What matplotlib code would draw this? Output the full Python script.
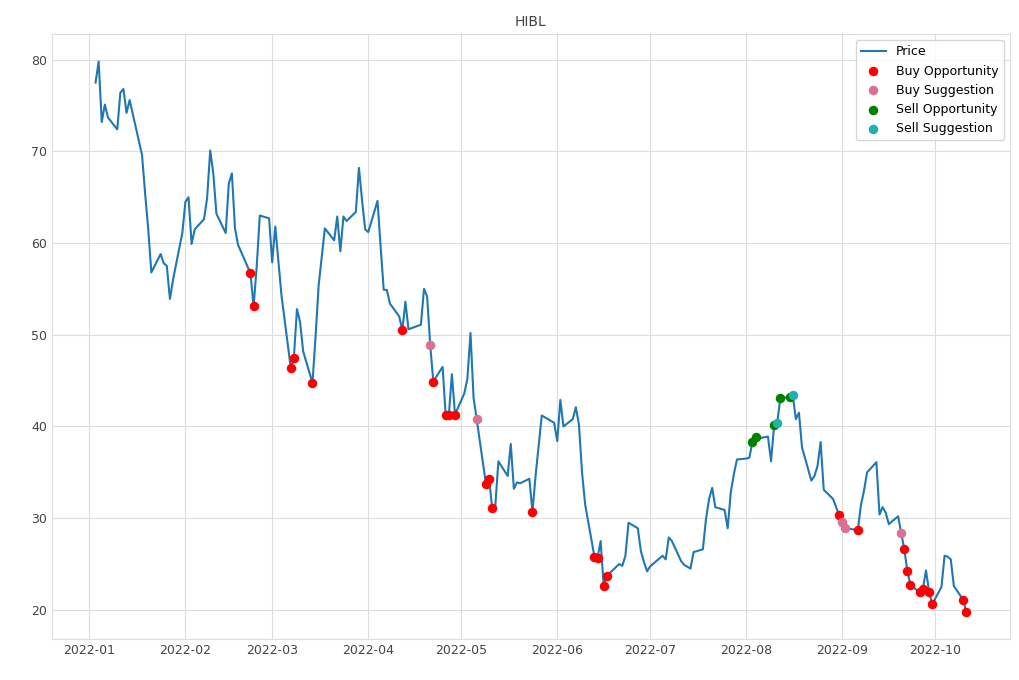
import pandas as pd
import matplotlib
matplotlib.use("Agg")
import matplotlib.pyplot as plt

# HIBL closing prices, trading days 2022
dates = [
    "2022-01-03", "2022-01-04", "2022-01-05", "2022-01-06", "2022-01-07",
    "2022-01-10", "2022-01-11", "2022-01-12", "2022-01-13", "2022-01-14",
    "2022-01-18", "2022-01-19", "2022-01-20", "2022-01-21",
    "2022-01-24", "2022-01-25", "2022-01-26", "2022-01-27", "2022-01-28",
    "2022-01-31", "2022-02-01", "2022-02-02", "2022-02-03", "2022-02-04",
    "2022-02-07", "2022-02-08", "2022-02-09", "2022-02-10", "2022-02-11",
    "2022-02-14", "2022-02-15", "2022-02-16", "2022-02-17", "2022-02-18",
    "2022-02-22", "2022-02-23", "2022-02-24", "2022-02-25",
    "2022-02-28", "2022-03-01", "2022-03-02", "2022-03-03", "2022-03-04",
    "2022-03-07", "2022-03-08", "2022-03-09", "2022-03-10", "2022-03-11",
    "2022-03-14", "2022-03-15", "2022-03-16", "2022-03-17", "2022-03-18",
    "2022-03-21", "2022-03-22", "2022-03-23", "2022-03-24", "2022-03-25",
    "2022-03-28", "2022-03-29", "2022-03-30", "2022-03-31", "2022-04-01",
    "2022-04-04", "2022-04-05", "2022-04-06", "2022-04-07", "2022-04-08",
    "2022-04-11", "2022-04-12", "2022-04-13", "2022-04-14",
    "2022-04-18", "2022-04-19", "2022-04-20", "2022-04-21", "2022-04-22",
    "2022-04-25", "2022-04-26", "2022-04-27", "2022-04-28", "2022-04-29",
    "2022-05-02", "2022-05-03", "2022-05-04", "2022-05-05", "2022-05-06",
    "2022-05-09", "2022-05-10", "2022-05-11", "2022-05-12", "2022-05-13",
    "2022-05-16", "2022-05-17", "2022-05-18", "2022-05-19", "2022-05-20",
    "2022-05-23", "2022-05-24", "2022-05-25", "2022-05-26", "2022-05-27",
    "2022-05-31", "2022-06-01", "2022-06-02", "2022-06-03",
    "2022-06-06", "2022-06-07", "2022-06-08", "2022-06-09", "2022-06-10",
    "2022-06-13", "2022-06-14", "2022-06-15", "2022-06-16", "2022-06-17",
    "2022-06-21", "2022-06-22", "2022-06-23", "2022-06-24",
    "2022-06-27", "2022-06-28", "2022-06-29", "2022-06-30", "2022-07-01",
    "2022-07-05", "2022-07-06", "2022-07-07", "2022-07-08",
    "2022-07-11", "2022-07-12", "2022-07-13", "2022-07-14", "2022-07-15",
    "2022-07-18", "2022-07-19", "2022-07-20", "2022-07-21", "2022-07-22",
    "2022-07-25", "2022-07-26", "2022-07-27", "2022-07-28", "2022-07-29",
    "2022-08-01", "2022-08-02", "2022-08-03", "2022-08-04", "2022-08-05",
    "2022-08-08", "2022-08-09", "2022-08-10", "2022-08-11", "2022-08-12",
    "2022-08-15", "2022-08-16", "2022-08-17", "2022-08-18", "2022-08-19",
    "2022-08-22", "2022-08-23", "2022-08-24", "2022-08-25", "2022-08-26",
    "2022-08-29", "2022-08-30", "2022-08-31", "2022-09-01", "2022-09-02",
    "2022-09-06", "2022-09-07", "2022-09-08", "2022-09-09",
    "2022-09-12", "2022-09-13", "2022-09-14", "2022-09-15", "2022-09-16",
    "2022-09-19", "2022-09-20", "2022-09-21", "2022-09-22", "2022-09-23",
    "2022-09-26", "2022-09-27", "2022-09-28", "2022-09-29", "2022-09-30",
    "2022-10-03", "2022-10-04", "2022-10-05", "2022-10-06", "2022-10-07",
    "2022-10-10", "2022-10-11",
]
prices = [
    77.5, 79.8, 73.2, 75.1, 73.7,
    72.4, 76.4, 76.8, 74.2, 75.6,
    69.6, 65.4, 61.5, 56.8,
    58.8, 57.8, 57.5, 53.9, 56.0,
    61.1, 64.5, 65.0, 59.9, 61.5,
    62.6, 64.9, 70.1, 67.6, 63.2,
    61.1, 66.5, 67.6, 61.6, 59.8,
    56.7, 53.1, 57.4, 63.0,
    62.7, 57.9, 61.8, 58.0, 54.3,
    46.4, 47.5, 52.8, 51.4, 48.2,
    44.75, 49.8, 55.4, 58.5, 61.6,
    60.3, 62.9, 59.1, 62.9, 62.4,
    63.4, 68.2, 64.7, 61.5, 61.2,
    64.6, 59.6, 54.9, 54.9, 53.4,
    52.0, 50.5, 53.6, 50.6,
    51.1, 55.0, 54.2, 48.9, 44.9,
    46.5, 41.2, 41.2, 45.7, 41.3,
    43.6, 45.2, 50.2, 43.1, 40.8,
    33.7, 34.3, 31.1, 31.3, 36.2,
    34.6, 38.1, 33.2, 33.9, 33.8,
    34.3, 30.7, 34.6, 37.9, 41.2,
    40.4, 38.4, 42.9, 40.0,
    40.8, 42.1, 40.2, 35.0, 31.5,
    25.8, 25.7, 27.5, 22.6, 23.7,
    25.0, 24.8, 25.9, 29.5,
    28.9, 26.4, 25.2, 24.2, 24.75,
    25.9, 25.5, 27.9, 27.5,
    25.3, 24.9, 24.7, 24.5, 26.3,
    26.6, 29.9, 32.1, 33.3, 31.2,
    30.9, 28.9, 32.8, 34.8, 36.4,
    36.5, 36.6, 38.3, 38.9, 38.7,
    38.9, 36.2, 40.2, 40.4, 43.1,
    43.2, 43.4, 40.8, 41.5, 37.7,
    34.1, 34.6, 35.7, 38.3, 33.1,
    32.1, 31.2, 30.3, 29.6, 28.9,
    28.7, 31.4, 33.0, 35.0,
    36.1, 30.4, 31.2, 30.6, 29.35,
    30.2, 28.4, 26.6, 24.2, 22.7,
    21.9, 22.3, 24.3, 22.0, 20.6,
    22.5, 25.9, 25.8, 25.5, 22.6,
    21.1, 19.8,
]

buy_opportunity = [
    "2022-02-22", "2022-02-23", "2022-03-07", "2022-03-08", "2022-03-14",
    "2022-04-12", "2022-04-22", "2022-04-26", "2022-04-27", "2022-04-29",
    "2022-05-09", "2022-05-10", "2022-05-11", "2022-05-24",
    "2022-06-13", "2022-06-14", "2022-06-16", "2022-06-17",
    "2022-08-31", "2022-09-06", "2022-09-21", "2022-09-22", "2022-09-23",
    "2022-09-26", "2022-09-27", "2022-09-29", "2022-09-30",
    "2022-10-10", "2022-10-11",
]
buy_suggestion = ["2022-04-21", "2022-05-06", "2022-09-01", "2022-09-02", "2022-09-20"]
sell_opportunity = ["2022-08-03", "2022-08-04", "2022-08-10", "2022-08-12", "2022-08-15"]
sell_suggestion = ["2022-08-11", "2022-08-16"]

price = pd.Series(prices, index=pd.to_datetime(dates))

plt.rcParams["font.family"] = "DejaVu Sans"
fig, ax = plt.subplots(figsize=(10.2, 6.8), dpi=100)
ax.set_facecolor("white")
ax.grid(True, color="#dddddd", linewidth=0.8)
ax.set_axisbelow(True)
for s in ax.spines.values():
    s.set_color("#dddddd")

ax.plot(price.index, price.values, color="#1f77b4", linewidth=1.5, label="Price")

groups = [
    (buy_opportunity, "red", "Buy Opportunity"),
    (buy_suggestion, "palevioletred", "Buy Suggestion"),
    (sell_opportunity, "green", "Sell Opportunity"),
    (sell_suggestion, "lightseagreen", "Sell Suggestion"),
]
for d, c, lab in groups:
    idx = pd.to_datetime(d)
    ax.scatter(idx, price.loc[idx].values, color=c, s=34, zorder=3, label=lab)

ax.set_title("HIBL", color="#444444", fontsize=10)
ax.tick_params(colors="#444444", labelsize=9, length=0)
ax.legend(loc="upper right", frameon=True, facecolor="white", edgecolor="#cccccc",
          fontsize=9, fancybox=True)

fig.subplots_adjust(left=0.051, right=0.990, top=0.95, bottom=0.06)
fig.savefig("out.png", dpi=100)
